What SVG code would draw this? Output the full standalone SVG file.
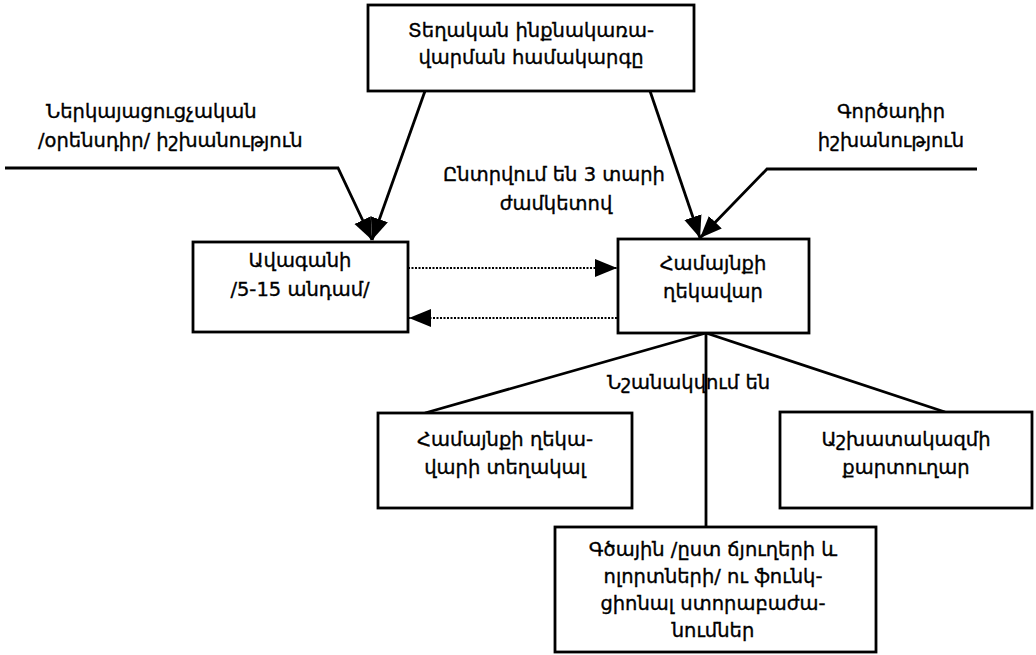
<svg xmlns="http://www.w3.org/2000/svg" width="1036" height="655" viewBox="0 0 1036 655">
<style>
.box{fill:#fff;stroke:#000;stroke-width:2.8}
.t{font-family:"DejaVu Sans","Noto Sans",sans-serif;font-size:19.5px;fill:#000;stroke:#000;stroke-width:0.35;text-anchor:middle}
.ts{font-family:"DejaVu Sans","Noto Sans",sans-serif;font-size:19.5px;fill:#000;stroke:#000;stroke-width:0.35}
.ln{fill:none;stroke:#000;stroke-width:2.8}
.dot{fill:none;stroke:#000;stroke-width:2.2;stroke-dasharray:2 1.5}
</style>
<defs>
<marker id="arr" markerUnits="userSpaceOnUse" markerWidth="24" markerHeight="20" refX="22" refY="9" orient="auto">
<path d="M0,0 L22,9 L0,18 z" fill="#000"/>
</marker>
</defs>
<rect width="1036" height="655" fill="#fff"/>
<g id="connectors">
<polyline class="ln" points="5,168 338,168 372,240" marker-end="url(#arr)"/>
<line class="ln" x1="425" y1="91" x2="372" y2="240" marker-end="url(#arr)"/>
<line class="ln" x1="650" y1="91" x2="700" y2="238" marker-end="url(#arr)"/>
<polyline class="ln" points="977,169 767,169 700,238" marker-end="url(#arr)"/>
<line class="dot" x1="408" y1="268" x2="617" y2="268" marker-end="url(#arr)"/>
<line class="dot" x1="617" y1="318" x2="409" y2="318" marker-end="url(#arr)"/>
<line class="ln" x1="706" y1="333" x2="425" y2="413"/>
<line class="ln" x1="706" y1="333" x2="706" y2="527"/>
<line class="ln" x1="706" y1="333" x2="945" y2="412"/>
</g>
<g id="labels">
<text class="ts" x="46" y="118">Ներկայացուցչական</text>
<text class="ts" x="38" y="147">/օրենսդիր/ իշխանություն</text>
<text class="t" x="891" y="118">Գործադիր</text>
<text class="t" x="891" y="147">իշխանություն</text>
<text class="t" x="554" y="181">Ընտրվում են 3 տարի</text>
<text class="t" x="556" y="210">ժամկետով</text>
<text class="ts" x="607" y="389">Նշանակվում են</text>
</g>
<g id="node-top">
<rect class="box" x="368" y="5" width="326" height="86"/>
<text class="t" x="531" y="37">Տեղական ինքնակառա-</text>
<text class="t" x="531" y="64">վարման համակարգը</text>
</g>
<g id="node-avagani">
<rect class="box" x="193" y="242" width="215" height="90"/>
<text class="t" x="300" y="267">Ավագանի</text>
<text class="t" x="300" y="296">/5-15 անդամ/</text>
</g>
<g id="node-head">
<rect class="box" x="618" y="239" width="191" height="94"/>
<text class="t" x="713" y="270">Համայնքի</text>
<text class="t" x="713" y="298">ղեկավար</text>
</g>
<g id="node-deputy">
<rect class="box" x="378" y="413" width="254" height="95"/>
<text class="t" x="505" y="446">Համայնքի ղեկա-</text>
<text class="t" x="505" y="474">վարի տեղակալ</text>
</g>
<g id="node-secretary">
<rect class="box" x="780" y="412" width="252" height="96"/>
<text class="t" x="906" y="446">Աշխատակազմի</text>
<text class="t" x="906" y="474">քարտուղար</text>
</g>
<g id="node-units">
<rect class="box" x="555" y="527" width="321" height="125"/>
<text class="t" x="713" y="556">Գծային /ըստ ճյուղերի և</text>
<text class="t" x="713" y="583">ոլորտների/ ու ֆունկ-</text>
<text class="t" x="713" y="610">ցիոնալ ստորաբաժա-</text>
<text class="t" x="713" y="637">նումներ</text>
</g>
</svg>
